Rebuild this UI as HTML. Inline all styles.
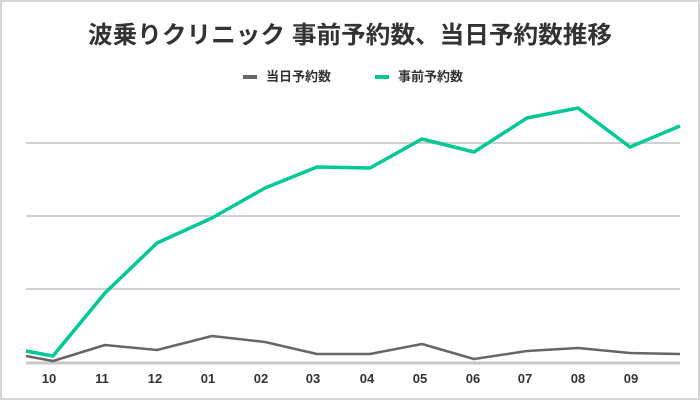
<!DOCTYPE html><html><head><meta charset="utf-8"><style>body{margin:0;background:#fff}svg{display:block;font-family:"Liberation Sans","Noto Sans CJK JP",sans-serif}</style></head><body>
<svg width="700" height="400" viewBox="0 0 700 400">
<rect x="1" y="1" width="698" height="398" fill="#fff" stroke="#d6d6d6" stroke-width="2"/>
<text x="350" y="43" text-anchor="middle" font-size="24" font-weight="bold" fill="#333" textLength="524" lengthAdjust="spacingAndGlyphs">波乗りクリニック 事前予約数、当日予約数推移</text>
<rect x="243" y="75" width="14" height="4" fill="#666"/>
<text x="266" y="81" font-size="13" font-weight="bold" fill="#333">当日予約数</text>
<rect x="375" y="75" width="14" height="4" fill="#00c896"/>
<text x="398" y="81" font-size="13" font-weight="bold" fill="#333">事前予約数</text>
<g stroke="#d0d0d0" stroke-width="2"><line x1="26" y1="143" x2="680" y2="143"/><line x1="26" y1="216" x2="680" y2="216"/><line x1="26" y1="289" x2="680" y2="289"/></g>
<line x1="26" y1="363" x2="680" y2="363" stroke="#c8c8c8" stroke-width="3"/>
<g font-size="13" font-weight="bold" fill="#333" text-anchor="middle">
<text x="49" y="383">10</text><text x="102" y="383">11</text><text x="155" y="383">12</text><text x="208" y="383">01</text><text x="261" y="383">02</text><text x="313" y="383">03</text><text x="367" y="383">04</text><text x="420" y="383">05</text><text x="473" y="383">06</text><text x="525" y="383">07</text><text x="578" y="383">08</text><text x="631" y="383">09</text></g>
<polyline fill="none" stroke="#666" stroke-width="2.5" stroke-linejoin="round" points="26,356 53,361 105,345 157,350 212,336 265,342 317,354 370,354 422,344 474,359 527,351 578,348 630,353 680,354"/>
<polyline fill="none" stroke="#00c896" stroke-width="3.5" stroke-linejoin="round" points="26,351 53,356 105,293 157,243 212,218 265,188 317,167 370,168 422,139 474,152 527,118 578,108 630,147 680,126"/>
</svg></body></html>
